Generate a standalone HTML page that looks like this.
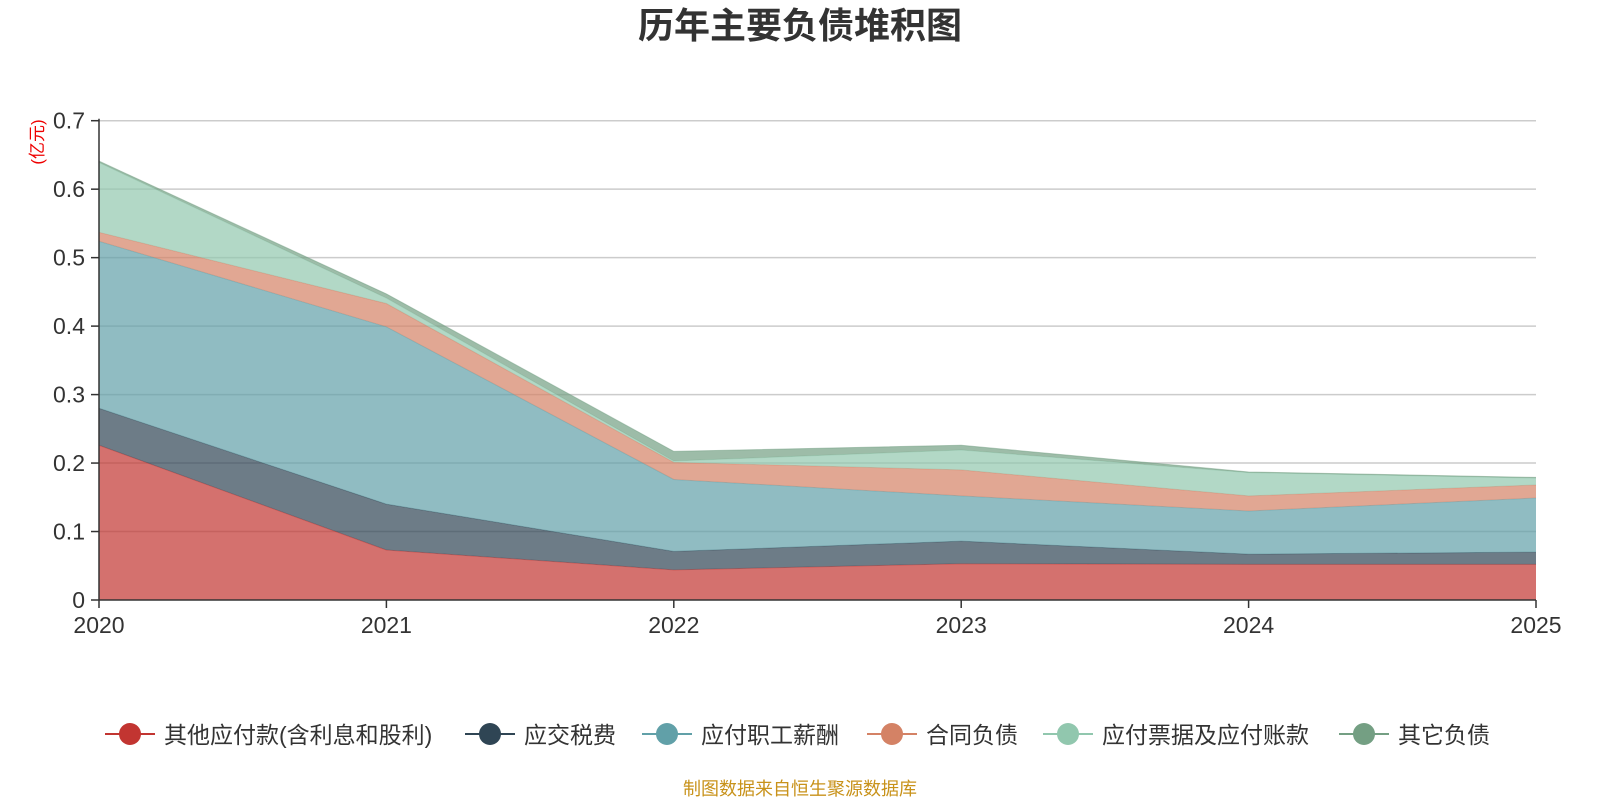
<!DOCTYPE html>
<html><head><meta charset="utf-8"><style>
body{margin:0;background:#fff;}
svg text{font-family:"Liberation Sans","Noto Sans CJK SC",sans-serif;}
</style></head><body>
<svg id="chart" width="1600" height="800" xmlns="http://www.w3.org/2000/svg">
<text x="800" y="38" text-anchor="middle" font-size="36" font-weight="bold" fill="#333">历年主要负债堆积图</text>
<text transform="translate(43,142) rotate(-90)" text-anchor="middle" font-size="17" fill="#e00">(亿元)</text>
<g id="grid"></g><g id="areas"></g><g id="axes"></g><g id="legend"></g>
<text x="800" y="795" text-anchor="middle" font-size="18" fill="#c8921a">制图数据来自恒生聚源数据库</text>
</svg>
<script>
const years=['2020','2021','2022','2023','2024','2025'];
const yTicks=[0,0.1,0.2,0.3,0.4,0.5,0.6,0.7];
const seriesNames=['其他应付款(含利息和股利)','应交税费','应付职工薪酬','合同负债','应付票据及应付账款','其它负债'];
const sOther=[0.226,0.073,0.044,0.053,0.052,0.052];
const sTax=[0.054,0.067,0.027,0.033,0.015,0.018];
const sSalary=[0.244,0.259,0.105,0.066,0.063,0.079];
const sContract=[0.013,0.034,0.025,0.038,0.022,0.019];
const sPayable=[0.102,0.008,0.002,0.029,0.034,0.010];
const sOtherLiab=[0.002,0.006,0.014,0.007,0.001,0.001];
const colors=['#c23531','#2f4554','#61a0a8','#d48265','#91c7ae','#749f83'];
const L=99,R=1536,T=120.7,B=600,yMax=0.7;
const xs=i=>L+(R-L)*i/(years.length-1);
const ys=v=>B-(B-T)*v/yMax;
const NS='http://www.w3.org/2000/svg';
function mk(tag,attrs,parent){const e=document.createElementNS(NS,tag);for(const k in attrs)e.setAttribute(k,attrs[k]);parent.appendChild(e);return e;}
const grid=document.getElementById('grid'),axes=document.getElementById('axes'),areas=document.getElementById('areas'),legend=document.getElementById('legend');
yTicks.forEach(t=>{
  if(t>0){const g=mk('line',{x1:L,x2:R,y1:ys(t),y2:ys(t),stroke:'#ccc','stroke-width':1.5},grid);
  
  }
  const tk=mk('line',{x1:L-8,x2:L,y1:ys(t),y2:ys(t),stroke:'#333','stroke-width':1.5},axes);
  
  
  const tx=mk('text',{x:L-14,y:ys(t)+8,'text-anchor':'end','font-size':23,fill:'#333'},axes);
  tx.textContent=String(t);
  
  
});
const series=[sOther,sTax,sSalary,sContract,sPayable,sOtherLiab];
let base=years.map(()=>0);
series.forEach((s,k)=>{
  const top=base.map((b,i)=>b+s[i]);
  let d='M'+years.map((_,i)=>xs(i)+','+ys(top[i])).join(' L');
  for(let i=years.length-1;i>=0;i--)d+=' L'+xs(i)+','+ys(base[i]);
  d+='Z';
  const p=mk('path',{d:d,fill:colors[k],'fill-opacity':0.7},areas);
  
  
  const ln=mk('polyline',{points:years.map((_,i)=>xs(i)+','+ys(top[i])).join(' '),fill:'none',stroke:colors[k],'stroke-opacity':0.5,'stroke-width':1},areas);
  
  
  base=top;
});
const ya=mk('line',{x1:L,x2:L,y1:T-2,y2:B,stroke:'#333','stroke-width':1.5},axes);


const xa=mk('line',{x1:L,x2:R,y1:B,y2:B,stroke:'#333','stroke-width':1.5},axes);


years.forEach((y,i)=>{
  const tk=mk('line',{x1:xs(i),x2:xs(i),y1:B,y2:B+8,stroke:'#333','stroke-width':1.5},axes);
  
  
  const t=mk('text',{x:xs(i),y:B+33,'text-anchor':'middle','font-size':23,fill:'#333'},axes);
  t.textContent=y;
  
  
});
const legX=[105,465,642,867,1043,1339];
seriesNames.forEach((n,k)=>{
  const g=mk('g',{},legend);
  
  
  const x=legX[k],y=734;
  mk('line',{x1:x,x2:x+50,y1:y,y2:y,stroke:colors[k],'stroke-width':2},g);
  mk('circle',{cx:x+25,cy:y,r:11,fill:colors[k]},g);
  const t=mk('text',{x:x+59,y:y+9,'font-size':23,fill:'#333'},g);
  t.textContent=n;
});
</script>
</body></html>
